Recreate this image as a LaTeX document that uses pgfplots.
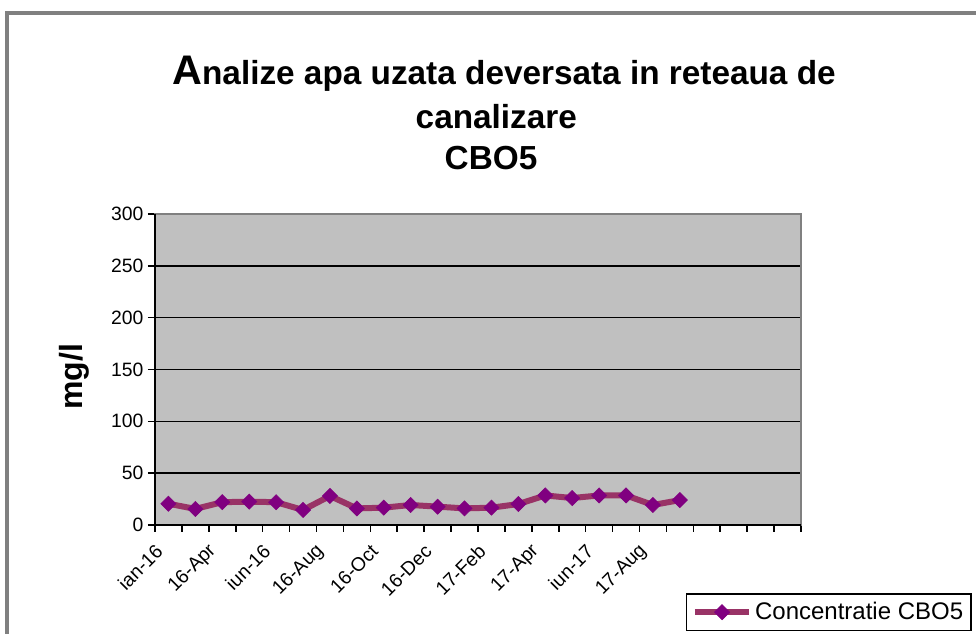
\documentclass[border=0pt]{standalone}
\usepackage{fontspec}
\setmainfont{Liberation Sans}
\usepackage{pgfplots}
\pgfplotsset{compat=1.18}
\definecolor{plotbg}{HTML}{C0C0C0}
\definecolor{framegray}{HTML}{808080}
\definecolor{linemauve}{HTML}{993366}
\definecolor{markpurple}{HTML}{800080}

\begin{document}
\begin{tikzpicture}
% 1 px of the reference = 0.75pt, origin at the lower-left of the plot area
\useasboundingbox (-116.25pt,-81.75pt) rectangle (615.75pt,393.75pt);
\draw[framegray, line width=3pt] (-111pt,-120pt) -- (-111pt,384pt) -- (660pt,384pt);

\node[anchor=base, font=\fontsize{25}{30}\selectfont\bfseries] at (261.75pt,330pt)
  {{\fontsize{31}{31}\selectfont A}nalize apa uzata deversata in reteaua de};
\node[anchor=base, font=\fontsize{25}{30}\selectfont\bfseries] at (256pt,297pt) {canalizare};
\node[anchor=base, font=\fontsize{25}{30}\selectfont\bfseries] at (252pt,266.25pt) {CBO5};

\begin{axis}[
    scale only axis,
    width=484.5pt, height=233.25pt,
    at={(0pt,0pt)}, anchor=south west,
    xmin=0.5, xmax=24.5,
    ymin=0, ymax=300,
    ytick={0,50,...,300},
    xtick={0.5,1.5,...,24.5},
    xticklabels={},
    extra x ticks={1,3,...,19},
    extra x tick labels={ian-16,16-Apr,iun-16,16-Aug,16-Oct,16-Dec,17-Feb,17-Apr,iun-17,17-Aug},
    extra x tick style={major tick length=0pt, grid=none,
        tick label style={xshift=-4.5pt, yshift=-15pt, rotate=45, anchor=east}},
    tick pos=left,
    tick align=outside,
    major tick length=5.25pt,
    tick style={black, line width=1.2pt},
    ymajorgrids,
    major grid style={black, line width=1.2pt},
    axis line style={framegray, line width=1.5pt},
    axis background/.style={fill=plotbg},
    tick label style={font=\fontsize{14.5}{16}\selectfont},
    /pgf/number format/assume math mode=true,
    clip=false,
    legend style={at={(1.2647,-0.2187)}, anchor=north east, draw=black, line width=1.2pt,
        font=\fontsize{18}{20}\selectfont, inner xsep=4pt, inner ysep=4.5pt},
    legend cell align=left,
    legend image code/.code={
        \draw[#1, mark repeat=2, mark phase=2] plot coordinates {(0pt,0pt) (20.5pt,0pt) (41pt,0pt)};
    },
]
\addplot[linemauve, line width=4.5pt, mark=square*, mark size=4pt,
    mark options={rotate=45, fill=markpurple, draw=markpurple, line width=0.5pt}]
    coordinates {
    (1,20.5) (2,15.5) (3,22) (4,22.5) (5,22) (6,14.5) (7,28) (8,16) (9,16.7) (10,19.3)
    (11,17.7) (12,16) (13,16.7) (14,20.2) (15,28.5) (16,26) (17,28.5) (18,28.5) (19,19.3) (20,24)
};
\addlegendentry{Concentratie CBO5}
\draw[black, line width=1.5pt] (rel axis cs:0,1) -- (rel axis cs:0,0) -- (rel axis cs:1,0);
\end{axis}

\node[rotate=90, font=\fontsize{24}{26}\selectfont\bfseries] at (-60.75pt,111pt) {mg/l};
\end{tikzpicture}
\end{document}
